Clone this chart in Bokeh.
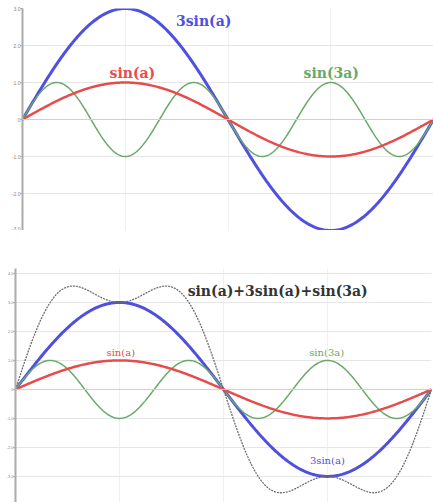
import numpy as np
from bokeh.plotting import figure
from bokeh.models import FixedTicker, Span, CustomJSTickFormatter
from bokeh.core.properties import value
from bokeh.embed import file_html
from bokeh.resources import INLINE

# data
a = np.linspace(0, 2 * np.pi, 400)
sin_a = np.sin(a)
three_sin_a = 3 * np.sin(a)
sin_3a = np.sin(3 * a)
total = sin_a + three_sin_a + sin_3a

top_ticks = [-3, -2, -1, 0, 1, 2, 3]
bottom_ticks = [-4, -3, -2, -1, 0, 1, 2, 3, 4]
x_grid = [np.pi / 2, np.pi, 3 * np.pi / 2]

BLUE = "#4f4fe0"
RED = "#e64c4c"
GREEN = "#6aa86a"
GRAY = "#6e6e6e"
SERIF = value("DejaVu Serif")


def base(height, yr, ticks, border_top, border_left, border_right, font):
    p = figure(width=433, height=height, x_range=(0, 2 * np.pi), y_range=yr,
               output_backend="svg", toolbar_location=None,
               min_border_left=border_left, min_border_right=border_right,
               min_border_top=border_top, min_border_bottom=0, outline_line_color=None)
    p.xaxis.visible = False
    p.xaxis.ticker = FixedTicker(ticks=x_grid)
    p.xgrid.grid_line_color = "#f0f0f0"
    p.yaxis.ticker = FixedTicker(ticks=ticks, minor_ticks=list(np.arange(ticks[0], ticks[-1] + 0.01, 0.2)))
    p.yaxis.formatter = CustomJSTickFormatter(code="return tick == 0 ? '0' : tick.toFixed(1);")
    p.yaxis.major_label_text_font_size = font
    p.yaxis.major_label_text_color = "#888888"
    p.yaxis.major_label_standoff = 0
    p.yaxis.axis_line_color = "#aaaaaa"
    p.yaxis.axis_line_width = 2
    p.yaxis.major_tick_line_color = "#999999"
    p.yaxis.minor_tick_line_color = "#bbbbbb"
    p.yaxis.major_tick_out = 2
    p.yaxis.minor_tick_out = 1
    p.yaxis.major_tick_in = 0
    p.yaxis.minor_tick_in = 0
    p.ygrid.grid_line_color = "#e6e6e6"
    p.add_layout(Span(location=0, dimension="width", line_color="#d0d0d0", line_width=1))
    return p


def label(p, x, y, txt, color, size, bold):
    p.text(x=[x], y=[y], text=[txt], text_color=color, text_font=SERIF,
           text_font_style="bold" if bold else "normal", text_font_size=size,
           text_align="center", text_baseline="middle")


# top chart
p1 = base(230, (-3.0, 3.0), top_ticks, 8, 22, 0, "5px")
p1.line(a, three_sin_a, line_color=BLUE, line_width=3)
p1.line(a, sin_3a, line_color=GREEN, line_width=1.5)
p1.line(a, sin_a, line_color=RED, line_width=2.5)
label(p1, 2.77, 2.67, "3sin(a)", BLUE, "14px", True)
label(p1, 1.68, 1.25, "sin(a)", RED, "14px", True)
label(p1, 4.72, 1.25, "sin(3a)", GREEN, "14px", True)

# bottom chart
p2 = base(272, (-3.9, 4.17), bottom_ticks, 38, 15, 2, "4px")
p2.line(a, three_sin_a, line_color=BLUE, line_width=3)
p2.line(a, sin_3a, line_color=GREEN, line_width=1.5)
p2.line(a, sin_a, line_color=RED, line_width=2.5)
p2.line(a, total, line_color=GRAY, line_width=1.3, line_dash="2 1")
label(p2, 3.96, 3.41, "sin(a)+3sin(a)+sin(3a)", "#333333", "14px", True)
label(p2, 1.59, 1.28, "sin(a)", RED, "10px", False)
label(p2, 4.70, 1.28, "sin(3a)", GREEN, "10px", False)
label(p2, 4.71, -2.45, "3sin(a)", BLUE, "10px", False)

open("out.html", "w").write(file_html([p1, p2], INLINE))
